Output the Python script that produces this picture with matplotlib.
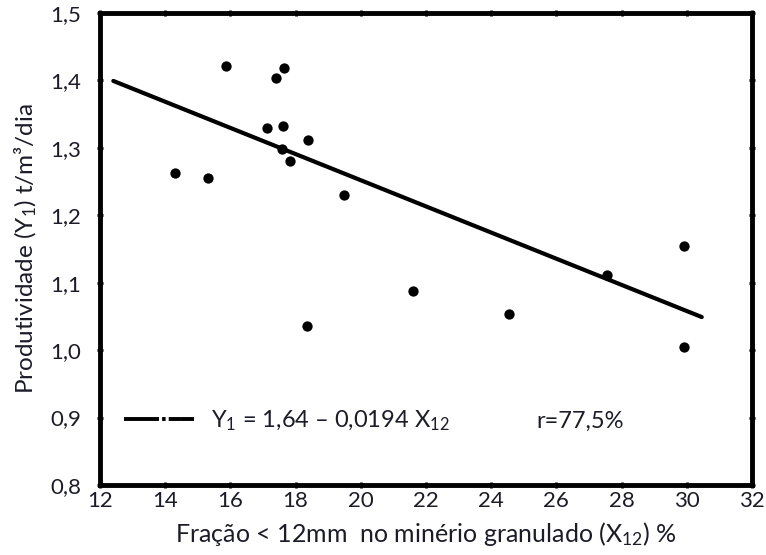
import matplotlib
matplotlib.use("Agg")
import matplotlib.pyplot as plt
from matplotlib.lines import Line2D
import numpy as np

plt.rcParams['font.family'] = ['Lato', 'DejaVu Sans']
plt.rcParams['mathtext.fontset'] = 'custom'
plt.rcParams['mathtext.rm'] = 'Lato'
plt.rcParams['mathtext.it'] = 'Lato'

# Observed samples: fines fraction < 12 mm (%) vs productivity (t/m3/day)
fines_pct = [15.86, 17.64, 17.40, 17.13, 17.62, 18.39, 17.57, 17.83,
             14.29, 15.32, 19.48, 18.36, 21.61, 24.56, 27.56, 29.90, 29.91]
productivity = [1.421, 1.418, 1.403, 1.330, 1.332, 1.312, 1.298, 1.281,
                1.263, 1.255, 1.230, 1.036, 1.087, 1.054, 1.112, 1.155, 1.004]

# Regression fit Y1 = a - b * X12
intercept = 1.64
slope = -0.0194
fit_range = [12.41, 30.46]
r_text = "r=77,5%"

x_ticks = [12, 14, 16, 18, 20, 22, 24, 26, 28, 30, 32]
y_ticks = [0.8, 0.9, 1.0, 1.1, 1.2, 1.3, 1.4, 1.5]

fig = plt.figure(figsize=(7.66, 5.55), dpi=100)
ax = fig.add_axes([0.1305, 0.1261, 0.8512, 0.8505])

text_color = '#1c1c28'

ax.scatter(fines_pct, productivity, s=55, color='black', zorder=3, linewidths=0)

xf = np.array(fit_range)
ax.plot(xf, intercept + slope * xf, color='black', lw=3, solid_capstyle='round', zorder=2)

ax.set_xlim(12, 32)
ax.set_ylim(0.8, 1.5)
ax.set_xticks(x_ticks)
ax.set_yticks(y_ticks)
ax.set_xticklabels([str(v) for v in x_ticks])
ax.set_yticklabels([f"{v:.1f}".replace('.', ',') for v in y_ticks])

for sp in ax.spines.values():
    sp.set_linewidth(3.5)
    sp.set_color('black')

ax.tick_params(axis='both', which='major', direction='inout', length=5, width=2,
               labelsize=16, labelcolor=text_color, top=True, right=True)
ax.tick_params(axis='y', pad=11)
ax.tick_params(axis='x', pad=2)

ax.set_xlabel("Fração < 12mm  no minério granulado (X$_{12}$) %", fontsize=18,
              color=text_color, labelpad=6)
ax.set_ylabel("Produtividade (Y$_1$) t/m³/dia", fontsize=17.5, color=text_color,
              labelpad=8)

handle = Line2D([], [], color='black', lw=2.8, dashes=(9, 0.8, 0.9, 0.8, 3, 0.01))
leg = ax.legend([handle], ["Y$_1$ = 1,64 – 0,0194 X$_{12}$"], loc='lower left',
                bbox_to_anchor=(0.0, 0.06), frameon=False, fontsize=17,
                handlelength=3.0, handletextpad=0.7, borderaxespad=0.6)
for t in leg.get_texts():
    t.set_color(text_color)

ax.text(0.736, 0.135, r_text, transform=ax.transAxes, fontsize=17,
        color=text_color, ha='center', va='center')

fig.savefig("out.png", dpi=100)
